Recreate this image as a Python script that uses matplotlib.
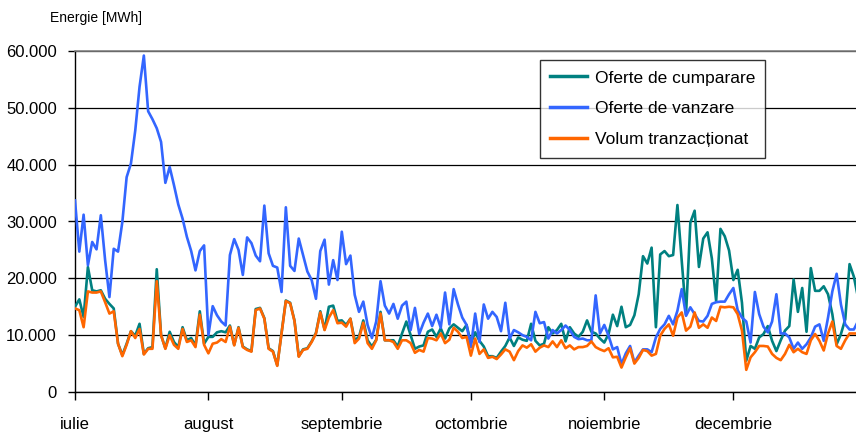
import numpy as np
import matplotlib
matplotlib.use("Agg")
import matplotlib.pyplot as plt
from matplotlib.ticker import FuncFormatter

plt.rcParams['font.family'] = ['Liberation Sans', 'DejaVu Sans']

months = ["iulie", "august", "septembrie", "octombrie", "noiembrie", "decembrie"]
month_days = [31, 31, 30, 31, 30, 30]  # December shown up to day 30

# values in thousand MWh, per month (daily)
cump_jul = [15.0, 16.3, 13.2, 22.0, 17.9, 17.7, 17.9, 16.4, 15.5, 14.7, 8.5, 6.5, 8.5, 10.7, 9.9, 12.0,
            6.7, 7.7, 7.9, 21.6, 10.0, 7.7, 10.6, 8.8, 7.9, 11.4, 9.1, 9.5, 8.2, 14.2, 8.5]
cump_aug = [9.7, 9.7, 10.5, 10.7, 10.5, 11.7, 8.3, 11.4, 8.0, 7.5, 7.2, 14.6, 14.8, 13.0, 7.7, 7.2,
            4.7, 10.4, 16.1, 15.7, 12.6, 6.3, 7.5, 7.7, 8.9, 10.4, 14.2, 11.0, 15.0, 15.2, 12.5]
cump_sep = [12.6, 11.8, 12.9, 9.1, 9.7, 12.6, 9.1, 8.0, 9.2, 14.1, 9.1, 9.1, 9.1, 8.0, 10.3, 12.4,
            10.0, 7.6, 8.0, 8.2, 10.6, 11.0, 9.7, 11.2, 9.4, 11.2, 11.9, 11.3, 10.7, 11.8]
cump_oct = [8.6, 10.5, 9.0, 8.0, 6.3, 6.3, 6.0, 7.1, 8.1, 9.6, 8.1, 9.6, 9.2, 9.0, 12.0, 9.0,
            8.2, 8.5, 11.4, 10.3, 10.9, 12.0, 8.9, 11.4, 10.3, 9.7, 10.6, 12.6, 10.6, 10.3, 9.4]
cump_nov = [8.7, 10.2, 13.6, 11.6, 15.0, 11.4, 11.8, 13.5, 17.2, 23.9, 22.6, 25.4, 11.4, 24.2, 24.8,
            23.9, 24.1, 32.9, 23.1, 13.6, 29.8, 31.9, 22.0, 27.0, 28.1, 23.5, 16.0, 28.7, 27.4, 24.9]
cump_dec = [19.7, 21.5, 15.7, 5.5, 8.1, 7.6, 9.6, 10.2, 11.6, 9.0, 7.2, 9.1, 10.8, 11.6, 19.8, 14.1,
            18.3, 10.6, 21.8, 17.8, 17.8, 18.6, 17.2, 13.7, 8.4, 10.2, 12.8, 22.5, 20.3, 16.5]

vanz_jul = [33.7, 24.7, 31.2, 22.3, 26.4, 25.1, 31.1, 23.2, 16.7, 25.2, 24.7, 29.9, 37.8, 40.2, 46.0,
            53.7, 59.2, 49.4, 48.0, 46.4, 44.0, 36.8, 39.6, 36.4, 33.0, 30.5, 27.3, 24.8, 21.4, 24.8, 25.8]
vanz_aug = [10.0, 15.1, 13.5, 12.4, 11.7, 24.1, 26.9, 25.0, 20.6, 27.2, 26.2, 24.0, 23.0, 32.8, 24.4,
            22.2, 21.9, 17.6, 32.5, 22.2, 21.3, 27.0, 24.1, 21.2, 19.7, 16.4, 24.8, 26.8, 18.9, 23.2, 19.7]
vanz_sep = [28.2, 22.5, 24.0, 17.1, 14.1, 15.9, 11.8, 9.5, 12.4, 19.5, 15.2, 13.8, 15.5, 12.9, 15.2,
            15.9, 10.9, 14.8, 10.2, 12.2, 13.8, 11.6, 13.6, 11.3, 17.5, 11.9, 18.1, 15.4, 13.1, 11.8]
vanz_oct = [7.9, 13.8, 8.8, 15.4, 12.9, 14.1, 13.2, 10.7, 15.7, 9.4, 10.9, 10.5, 10.0, 9.7, 9.1, 14.1,
            12.1, 12.3, 9.4, 10.9, 10.3, 10.9, 11.7, 10.9, 9.7, 9.3, 9.4, 9.1, 9.1, 17.0, 10.3]
vanz_nov = [11.8, 9.9, 7.5, 7.9, 4.9, 6.8, 8.1, 5.2, 6.4, 7.5, 7.5, 7.0, 9.6, 11.1, 11.9, 13.4, 11.9,
            14.3, 18.1, 13.4, 14.9, 13.7, 12.5, 12.4, 13.4, 15.5, 15.8, 15.9, 15.9, 17.2]
vanz_dec = [18.3, 14.4, 13.1, 12.4, 8.7, 17.6, 13.7, 11.5, 10.5, 12.4, 17.2, 10.3, 10.3, 9.6, 7.6, 8.7,
            7.6, 8.4, 9.6, 11.5, 11.9, 9.0, 13.1, 17.7, 20.8, 15.4, 11.9, 11.0, 11.0, 12.5]

vol_jul = [14.7, 14.4, 11.4, 17.7, 17.5, 17.5, 17.7, 15.8, 13.8, 14.2, 8.5, 6.3, 8.3, 10.7, 9.5, 11.1,
           6.6, 7.6, 7.6, 19.5, 10.0, 7.6, 10.0, 8.3, 7.6, 11.1, 8.8, 9.1, 7.9, 13.6, 8.3]
vol_aug = [6.8, 8.5, 8.7, 9.3, 8.8, 11.5, 8.2, 11.3, 7.9, 7.4, 7.1, 14.4, 14.7, 12.9, 7.6, 7.1, 4.6,
           10.3, 16.0, 15.6, 12.5, 6.2, 7.4, 7.6, 8.8, 10.3, 14.0, 10.9, 13.1, 14.4, 12.1]
vol_sep = [12.2, 11.5, 12.9, 8.6, 9.4, 12.2, 8.6, 7.6, 9.1, 13.8, 9.1, 9.1, 8.8, 7.6, 9.1, 9.1, 8.6,
           6.9, 7.4, 7.1, 9.5, 9.4, 9.1, 10.3, 8.6, 9.2, 11.3, 10.6, 9.5, 9.7]
vol_oct = [6.4, 9.4, 6.7, 7.5, 6.0, 6.2, 5.8, 6.6, 7.5, 7.1, 5.6, 7.2, 8.2, 7.8, 8.4, 7.1, 7.8, 8.2,
           7.9, 8.9, 7.9, 9.1, 7.7, 8.2, 7.5, 7.9, 7.9, 8.1, 8.9, 7.9, 7.5]
vol_nov = [7.2, 7.7, 6.1, 6.2, 4.3, 6.1, 7.7, 5.0, 6.0, 7.4, 7.2, 6.4, 6.7, 9.9, 11.1, 11.9, 9.9, 13.1,
           14.0, 10.8, 11.5, 14.0, 11.3, 11.9, 11.3, 13.1, 12.5, 15.0, 14.9, 15.0]
vol_dec = [14.9, 13.7, 10.8, 3.9, 6.1, 7.0, 8.1, 8.1, 8.0, 6.7, 6.0, 5.6, 6.7, 8.3, 7.0, 7.6, 7.0, 6.7,
           9.1, 10.2, 9.0, 7.3, 10.3, 12.4, 8.1, 7.6, 9.1, 10.3, 10.3, 10.3]

cumparare = np.array(cump_jul + cump_aug + cump_sep + cump_oct + cump_nov + cump_dec) * 1000
vanzare = np.array(vanz_jul + vanz_aug + vanz_sep + vanz_oct + vanz_nov + vanz_dec) * 1000
volum = np.array(vol_jul + vol_aug + vol_sep + vol_oct + vol_nov + vol_dec) * 1000
days = np.arange(len(cumparare))
month_starts = np.concatenate([[0], np.cumsum(month_days)[:-1]])

fig = plt.figure(figsize=(8.56, 4.36), dpi=100)
ax = fig.add_axes([75 / 856, 1 - 392 / 436, 1 - 75 / 856, (392 - 51) / 436])

ax.plot(days, cumparare, color='#008080', lw=1.9, label='Oferte de cumparare', zorder=3)
ax.plot(days, vanzare, color='#3366FF', lw=1.9, label='Oferte de vanzare', zorder=4)
ax.plot(days, volum, color='#FF6600', lw=1.9, label='Volum tranzacționat', zorder=5)

ax.set_xlim(0, 181.5)
ax.set_ylim(0, 60000)
ax.set_yticks(np.arange(0, 60001, 10000))
ax.yaxis.set_major_formatter(FuncFormatter(lambda v, p: f"{int(v):,}".replace(",", ".")))
ax.set_xticks(month_starts)
ax.set_xticklabels(months)
ax.grid(axis='y', color='black', lw=0.9, zorder=1)
ax.set_axisbelow(True)

ax.spines['right'].set_visible(False)
ax.spines['top'].set_color('#808080')
ax.spines['top'].set_linewidth(1.2)
ax.spines['left'].set_linewidth(1.0)
ax.spines['bottom'].set_linewidth(1.0)
ax.tick_params(axis='y', direction='out', length=5, width=1, pad=8, labelsize=12)
ax.tick_params(axis='x', direction='out', length=6, width=1, pad=12, labelsize=12)

fig.text(50 / 856, 1 - 18 / 436, "Energie [MWh]", fontsize=10, ha='left', va='center')

leg = ax.legend(loc='upper left', bbox_to_anchor=((540 - 75) / 781, (392 - 60) / 341),
                borderaxespad=0, fontsize=12.5, frameon=True, fancybox=False,
                edgecolor='black', handlelength=2.1, handletextpad=0.45, labelspacing=0.9,
                borderpad=0.6)
leg.get_frame().set_linewidth(1.0)
for line in leg.get_lines():
    line.set_linewidth(2.5)

fig.savefig("out.png", dpi=100)
